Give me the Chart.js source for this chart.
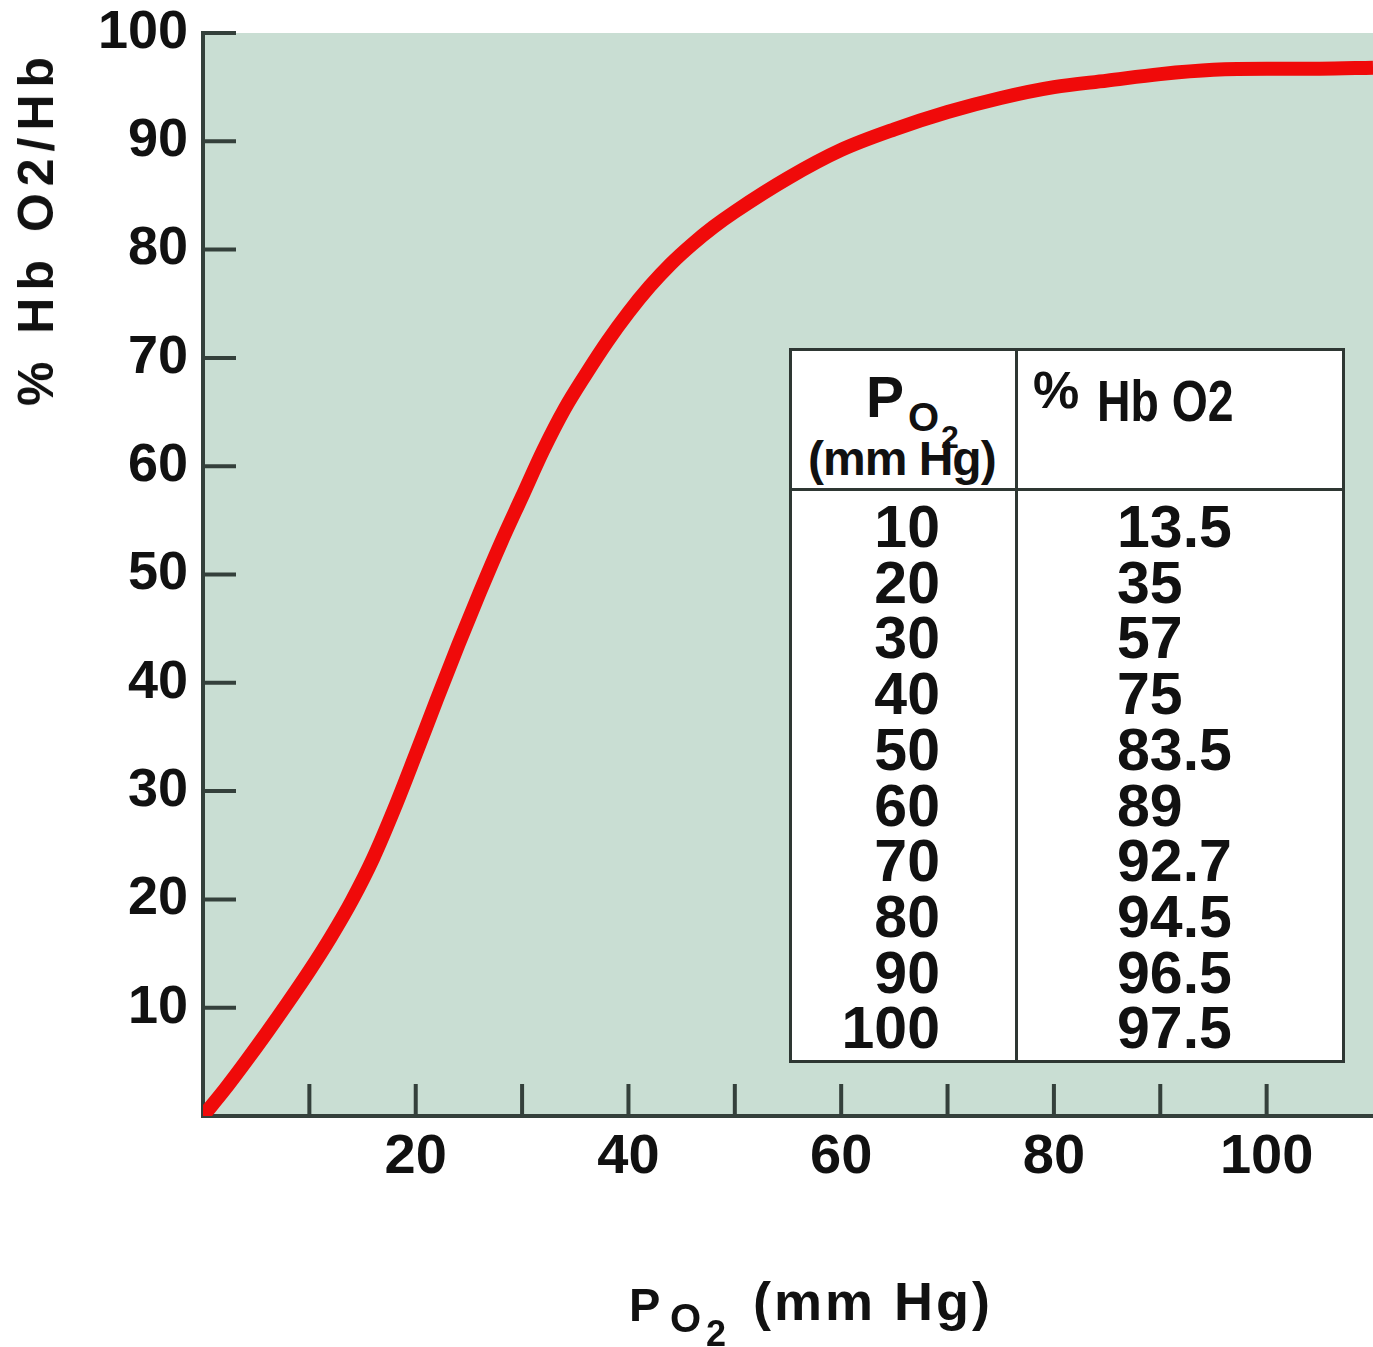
<!DOCTYPE html>
<html>
<head>
<meta charset="utf-8">
<script src="https://cdn.jsdelivr.net/npm/chart.js@4.4.1/dist/chart.umd.min.js"></script>
<style>
  html, body { margin: 0; padding: 0; background: #fff; overflow: hidden; }
  #wrap { position: relative; width: 1373px; height: 1347px; font-family: "Liberation Sans", Arial, sans-serif; color: #111; }
  canvas { position: absolute; left: 0; top: 0; }
  .abs { position: absolute; line-height: 1; white-space: nowrap; font-weight: bold; }
  #ytitle { left: 36px; top: 228px; font-size: 50px; letter-spacing: 7px; transform: translate(-50%, -50%) rotate(-90deg); }
  #table { position: absolute; left: 789px; top: 348px; width: 556px; height: 715px; box-sizing: border-box; border: 3px solid #2e3733; background: #fff; }
  .vline { position: absolute; left: 223px; top: 0; bottom: 0; width: 3px; background: #2e3733; }
  .hline { position: absolute; left: 0; right: 0; top: 137px; height: 3px; background: #2e3733; }
  .col { position: absolute; top: 149px; font-size: 59px; line-height: 55.7px; font-weight: bold; }
  .narrow { transform: scaleX(0.8); transform-origin: 0 0; }
</style>
</head>
<body>
<div id="wrap">
  <canvas id="chart" width="1373" height="1347"></canvas>
  <div id="ytitle" class="abs">% Hb O2/Hb</div>

  <div class="abs" style="left:629px; top:1281px; font-size:47px;">P</div>
  <div class="abs" style="left:670px; top:1298px; font-size:40px;">O</div>
  <div class="abs" style="left:706px; top:1316px; font-size:36px;">2</div>
  <div class="abs" style="left:753px; top:1274px; font-size:54px; letter-spacing:3px;">(mm Hg)</div>

  <div id="table">
    <div class="vline"></div>
    <div class="hline"></div>
    <div class="abs" style="left:74px; top:18px; font-size:57px;">P</div>
    <div class="abs" style="left:116px; top:46px; font-size:40px;">O</div>
    <div class="abs" style="left:149px; top:70px; font-size:32px;">2</div>
    <div class="abs" style="left:16px; top:84px; font-size:48px; letter-spacing:-1px;">(mm Hg)</div>
    <div class="abs" style="left:241px; top:13px; font-size:52px;">%</div>
    <div class="abs narrow" style="left:305px; top:21px; font-size:58px;">Hb O2</div>
    <div id="colLeft" class="col" style="left:0; width:148px; text-align:right;"></div>
    <div id="colRight" class="col" style="left:325px;"></div>
  </div>
</div>

<script>
// curve: PO2 (mm Hg) and % saturation
const po2 = [0, 2, 4, 6, 8, 10, 12, 14, 16, 18, 20, 22, 24, 26, 28, 30, 32, 34, 36, 38, 40,
             42, 44, 46, 48, 50, 55, 60, 65, 70, 75, 80, 85, 90, 95, 100, 105, 110];
const saturation = [0, 2.4, 5.0, 7.7, 10.5, 13.4, 16.5, 19.9, 23.8, 28.4, 33.4, 38.5, 43.5, 48.3, 52.9, 57.2,
                    61.5, 65.3, 68.5, 71.5, 74.2, 76.6, 78.7, 80.5, 82.1, 83.5, 86.6, 89.2, 91.1,
                    92.7, 94, 95, 95.6, 96.2, 96.6, 96.7, 96.7, 96.8];

// table in the inset
const tablePO2 = ['10', '20', '30', '40', '50', '60', '70', '80', '90', '100'];
const tableSat = ['13.5', '35', '57', '75', '83.5', '89', '92.7', '94.5', '96.5', '97.5'];

// tick labels
const xLabels = [20, 40, 60, 80, 100];
const yLabels = [10, 20, 30, 40, 50, 60, 70, 80, 90, 100];

document.getElementById('colLeft').innerHTML = tablePO2.join('<br>');
document.getElementById('colRight').innerHTML = tableSat.join('<br>');

const axisColor = '#34403b';

// background of plot area + tick marks pointing inwards
const plotStyle = {
    id: 'plotStyle',
    beforeDraw(chart) {
        const { ctx, chartArea: a } = chart;
        ctx.save();
        ctx.fillStyle = '#c9ded3';
        ctx.fillRect(a.left, a.top, a.right - a.left, a.bottom - a.top);
        ctx.restore();
    },
    beforeDatasetsDraw(chart) {
        const { ctx, chartArea: a, scales } = chart;
        ctx.save();
        ctx.strokeStyle = axisColor;
        ctx.lineWidth = 4;
        ctx.beginPath();
        for (let v = 10; v <= 100; v += 10) {
            const y = scales.y.getPixelForValue(v);
            ctx.moveTo(a.left, y);
            ctx.lineTo(a.left + 33, y);
            const x = scales.x.getPixelForValue(v);
            ctx.moveTo(x, a.bottom);
            ctx.lineTo(x, a.bottom - 32);
        }
        ctx.stroke();
        ctx.restore();
    }
};

const ctx = document.getElementById('chart').getContext('2d');
const chart = new Chart(ctx, {
    type: 'line',
    data: {
        datasets: [{
            data: po2.map((x, i) => ({ x: x, y: saturation[i] })),
            borderColor: '#f00a0a',
            borderWidth: 14,
            pointRadius: 0,
            cubicInterpolationMode: 'monotone',
            fill: false
        }]
    },
    options: {
        responsive: false,
        animation: false,
        devicePixelRatio: 1,
        layout: { padding: { top: 33, right: 0, left: 0, bottom: 0 } },
        plugins: { legend: { display: false }, tooltip: { enabled: false } },
        scales: {
            x: {
                type: 'linear',
                min: 0,
                max: 110,
                afterFit: s => { s.height = 231; s.paddingLeft = 0; s.paddingRight = 0; },
                grid: { display: false, drawTicks: false },
                border: { display: true, color: axisColor, width: 4 },
                afterBuildTicks: s => { s.ticks = xLabels.map(v => ({ value: v })); },
                ticks: {
                    autoSkip: false,
                    maxRotation: 0,
                    padding: 8,
                    color: '#111',
                    font: { family: 'Liberation Sans, Arial, sans-serif', size: 56, weight: 'bold' }
                }
            },
            y: {
                min: 0,
                max: 100,
                afterFit: s => { s.width = 203; s.paddingTop = 0; s.paddingBottom = 0; },
                grid: { display: false, drawTicks: false },
                border: { display: true, color: axisColor, width: 4 },
                afterBuildTicks: s => { s.ticks = yLabels.map(v => ({ value: v })); },
                ticks: {
                    autoSkip: false,
                    padding: 15,
                    color: '#111',
                    font: { family: 'Liberation Sans, Arial, sans-serif', size: 54, weight: 'bold' }
                }
            }
        }
    },
    plugins: [plotStyle]
});
</script>
</body>
</html>
